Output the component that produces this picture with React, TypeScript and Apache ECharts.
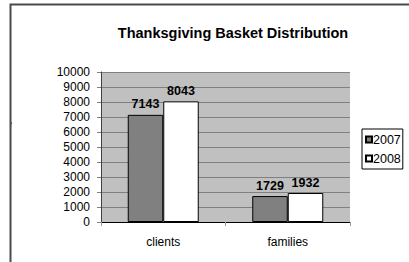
import React, { useEffect, useRef } from "react";
import * as echarts from "echarts";

const categories = ["clients", "families"];
const years = ["2007", "2008"];
const values2007 = [7143, 1729];
const values2008 = [8043, 1932];

export default function App() {
  const ref = useRef<HTMLDivElement>(null);
  useEffect(() => {
    if (!ref.current) return;
    const chart = echarts.init(ref.current, null, { renderer: "svg" });
    const font = "Arial, 'Liberation Sans', Helvetica, sans-serif";
    const labelStyle = {
      show: true,
      position: "top" as const,
      distance: 4,
      fontFamily: font,
      fontWeight: "bold" as const,
      fontSize: 12.5,
      color: "#000",
    };
    chart.setOption({
      animation: false,
      backgroundColor: "#fff",
      title: {
        text: "Thanksgiving Basket Distribution",
        left: 228,
        textAlign: "center",
        top: 20,
        textStyle: { fontFamily: font, fontWeight: "bold", fontSize: 14.5, color: "#000" },
      },
      legend: {
        orient: "vertical",
        left: 362,
        top: 129,
        data: years,
        icon: "rect",
        itemWidth: 6,
        itemHeight: 6,
        itemGap: 6,
        padding: [4, 2, 4, 3],
        borderColor: "#000",
        borderWidth: 1,
        textStyle: { fontFamily: font, fontSize: 12.5, color: "#000", padding: [0, 0, 0, -4] },
      },
      grid: {
        left: 101,
        top: 72,
        width: 249,
        height: 150,
        show: true,
        backgroundColor: "#c0c0c0",
        borderWidth: 0,
      },
      xAxis: {
        type: "category",
        data: categories,
        axisLine: { lineStyle: { color: "#000", width: 1 } },
        axisTick: { show: true, length: 4, lineStyle: { color: "#999" } },
        axisLabel: { fontFamily: font, fontSize: 12, color: "#000", margin: 14 },
      },
      yAxis: {
        type: "value",
        min: 0,
        max: 10000,
        interval: 1000,
        axisLine: { show: true, lineStyle: { color: "#404040", width: 1 } },
        axisTick: { show: true, length: 4, lineStyle: { color: "#808080" } },
        axisLabel: {
          fontFamily: font,
          fontSize: 12,
          color: "#000",
          margin: 11,
          formatter: (v: number) => String(v),
        },
        splitLine: { lineStyle: { color: "#808080", width: 1 } },
      },
      series: [
        {
          name: years[0],
          type: "bar",
          data: values2007,
          barWidth: 35.5,
          barGap: "0%",
          itemStyle: { color: "#808080", borderColor: "#000", borderWidth: 1 },
          label: labelStyle,
        },
        {
          name: years[1],
          type: "bar",
          data: values2008,
          barWidth: 35.5,
          barGap: "0%",
          itemStyle: { color: "#fff", borderColor: "#000", borderWidth: 1 },
          label: labelStyle,
        },
      ],
      graphic: [
        {
          type: "text",
          left: 6,
          top: 117,
          style: { text: "e", fontFamily: font, fontSize: 11, fill: "#000" },
          z: 10,
        },
        {
          type: "rect",
          shape: { x: 0, y: 0, width: 10, height: 262 },
          style: { fill: "#fff" },
          z: 11,
        },
        {
          type: "rect",
          shape: { x: 10.5, y: 4.5, width: 420, height: 300 },
          style: { fill: "none", stroke: "#4a4a4a", lineWidth: 2 },
          z: 12,
        },
      ],
    });
    return () => chart.dispose();
  }, []);
  return (
    <div
      ref={ref}
      style={{ position: "absolute", left: 0, top: 0, width: 409, height: 262 }}
    />
  );
}
